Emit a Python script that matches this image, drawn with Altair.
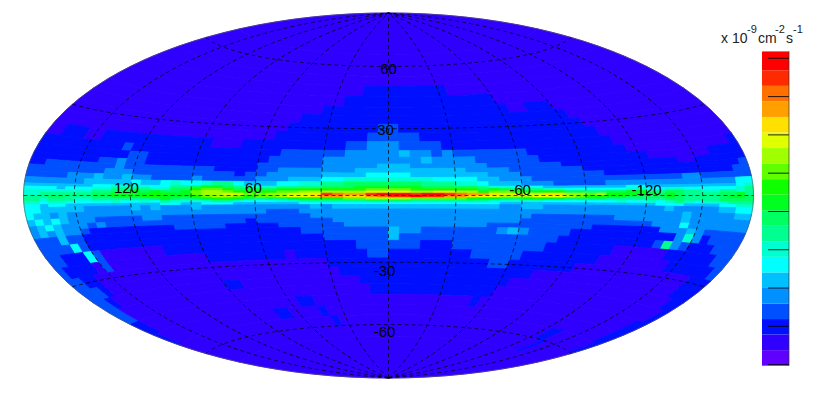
import math
import altair as alt
import pandas as pd

# Latitude edges of the sky-map rows, north to south (degrees)
LAT_EDGES = [90, 66, 60, 55, 50, 45, 40, 36, 32, 28, 24, 20, 17, 14, 12, 10, 8, 6, 4, 3, 2, 1, 0,
             -1, -2, -3, -4, -6, -8, -10, -12, -14, -17, -20, -24, -28, -32, -36, -40, -45, -50, -55, -60, -66, -90]

# One string per row; one character per 5 degree longitude cell from +180 to -180.
# Each character is the index of the flux band.
ONE = "111111 " * 12
ROWS = [
    ONE, ONE, ONE, ONE,
    "111111 111111 111111 111111 111111 111222 222222 211111 111111 111111 111111 111111",
    "111111 111111 111111 111111 111111 122222 222222 222222 111111 111111 111111 111111",
    "111111 111111 111111 111111 111112 222222 222222 222222 211222 111111 111111 111111",
    "111111 111111 111111 111111 111222 222222 222222 222222 222222 211111 111111 111111",
    "111111 111111 111111 111111 112222 222223 322222 222222 222222 221111 111111 111111",
    "111111 111111 111111 111111 122222 222233 333222 222222 222222 222111 111111 111111",
    "112221 122222 222222 211122 222222 223344 433332 222222 222222 222211 111111 111111",
    "222222 222232 222222 222222 223333 334444 454434 333333 322222 222221 111111 111112",
    "222222 222223 322222 222222 233333 444444 444544 443333 332222 222222 211111 112222",
    "222222 223343 322222 222222 333333 444445 554444 444333 333322 222222 222211 222222",
    "223333 333343 333333 332222 334444 444555 555555 544443 333333 222222 222222 222223",
    "333333 333444 333333 333323 344444 555566 665555 555444 333333 332222 222222 222233",
    "333334 445445 443333 433333 444555 667777 777766 665544 433333 333333 333344 333333",
    "444444 455555 655676 678865 556677 889999 999888 776555 444333 334444 444444 444466",
    "555555 556677 776688 9aa987 778888 999aaa aaa999 998776 665555 555566 555555 555567",
    "666656 667788 887799 bccb99 99aabb bbbbcc ccbbbb bb9a98 887766 666677 667766 666678",
    "777777 778899 a9a99a cddcbb bbccdd ddddee eeddee ddbccb aabb99 8899aa 889988 778878",
    "778888 8899aa aabbaa cddeec cddeef ihggij jjijji hggfef eeffdd cdbbaa a9a988 8899a8",
    "888998 8899aa abbaaa bcddcb ccdeef ggffgh iijiig gfeedd deeedc bbaa99 99a988 889aa9",
    "887888 778888 889a98 9abba9 899abb bbccdd ddcccc cbaa99 abaa99 998888 889988 889999",
    "776776 666676 676877 778876 667788 888899 998888 888777 776666 666766 767876 777888",
    "665665 555555 555665 566655 555566 666666 666666 666655 555555 555555 566655 556677",
    "665555 544444 545444 544444 444445 455555 555555 555544 554444 444444 445444 445566",
    "655454 444444 444444 444444 433344 444444 444444 444444 444444 444444 444454 444455",
    "565654 443333 344333 333333 333334 444444 444444 444444 433333 333444 444454 444444",
    "456544 434333 333333 333332 333333 344444 444444 444444 333333 333333 344464 444444",
    "454544 322222 222233 333222 223333 334444 444444 444333 333333 322222 224445 433333",
    "333533 222222 222222 222222 222233 333333 544333 333345 433332 222222 222247 423333",
    "333363 222222 222222 222222 222222 333333 533333 333333 333322 222222 223843 222333",
    "332226 311111 112222 222222 222222 222333 333222 333333 333222 222211 111122 222233",
    "322221 311111 111111 222222 221222 222233 222222 223333 322222 222111 111112 222223",
    "332211 111111 111111 111111 111111 222222 222222 222233 222222 211111 111111 111222",
    "333211 111111 111111 111111 111111 122222 222222 222222 222111 111111 111111 111222",
    "332111 111111 111111 221111 111111 111222 222222 222222 211111 111111 111111 111122",
    "331111 111111 111111 111111 111111 111122 222222 222222 111111 111111 111111 111112",
    "221111 111111 111111 111111 122111 111111 111111 111121 111111 111111 111111 111122",
    "211111 111111 111111 111221 111211 111111 111111 111111 111111 111111 111111 111122",
    "111111 111111 111111 111111 111121 111111 111111 111111 111111 111111 122111 111112",
    "111111 111111 111111 111111 111111 111111 111111 111111 111111 111111 111211 111111",
    ONE,
]

# Colour-bar bands, bottom to top
BAND_COLORS = ["#6000ff", "#3000ff", "#0010ff", "#0050ff", "#0090ff", "#00c0ff", "#00ffff",
               "#00ffd0", "#00ff90", "#00ff60", "#00ff20", "#10ff00", "#60ff00", "#a0ff00",
               "#e0ff00", "#ffe000", "#ffa000", "#ff7000", "#ff2a00", "#ff0000"]
BAND_EDGES = [4.86, 6.89, 8.92, 10.95, 12.98, 15.01, 17.04, 19.07, 21.1, 23.13, 25.16,
              27.19, 29.22, 31.25, 33.28, 35.31, 37.34, 39.37, 41.4, 43.43, 45.9]
BAR_TICKS = [5, 10, 15, 20, 25, 30, 35, 40, 45]

GRID_LONS = [-150, -120, -90, -60, -30, 0, 30, 60, 90, 120, 150]
GRID_LATS = [-60, -30, 0, 30, 60]

# text, longitude, latitude, dx, dy
MAP_LABELS = [("60", 0, 60, 0, 2.5), ("30", 0, 30, -3, 1.5), ("-30", 0, -30, -4, 9), ("-60", 0, -60, -4, 7.5),
              ("120", 120, 0, -4, -7.5), ("60", 60, 0, -1.5, -7.5), ("-60", -60, 0, -2, -6), ("-120", -120, 0, 0, -6)]

FONT = "Liberation Sans"


def hammer(lon, lat):
    la, ph = math.radians(lon) / 2, math.radians(lat)
    z = math.sqrt(1 + math.cos(ph) * math.cos(la))
    return [round(-2 * math.sqrt(2) * math.cos(ph) * math.sin(la) / z, 5),
            round(math.sqrt(2) * math.sin(ph) / z, 5)]


def steps(a, b, n):
    return [a + (b - a) * i / n for i in range(n + 1)]


def cell(lon_a, lon_b, hi, lo):
    nx = max(1, round(abs(lon_b - lon_a) / 5))
    ny = max(1, round(abs(hi - lo) / 3))
    ring = [hammer(x, hi) for x in steps(lon_a, lon_b, nx)]
    ring += [hammer(lon_b, y) for y in steps(hi, lo, ny)][1:]
    ring += [hammer(x, lo) for x in steps(lon_b, lon_a, nx)][1:]
    ring += [hammer(lon_a, y) for y in steps(lo, hi, ny)][1:]
    return ring


LEVEL_CODE = "0123456789abcdefghij"
features = []
for r, row in enumerate(ROWS):
    chars = row.replace(" ", "")
    assert len(chars) == 72, (r, len(chars))
    i = 0
    while i < 72:
        j = i
        while j + 1 < 72 and chars[j + 1] == chars[i]:
            j += 1
        k = LEVEL_CODE.index(chars[i])
        value = (BAND_EDGES[k] + BAND_EDGES[k + 1]) / 2
        features.append({"type": "Feature",
                         "geometry": {"type": "Polygon",
                                      "coordinates": [cell(180 - 5 * i, 180 - 5 * (j + 1), LAT_EDGES[r], LAT_EDGES[r + 1])]},
                         "properties": {"value": value}})
        i = j + 1

lines = []
for lon in GRID_LONS:
    lines.append({"type": "Feature", "properties": {},
                  "geometry": {"type": "LineString", "coordinates": [hammer(lon, y) for y in steps(-90, 90, 60)]}})
for lat in GRID_LATS:
    lines.append({"type": "Feature", "properties": {},
                  "geometry": {"type": "LineString", "coordinates": [hammer(x, lat) for x in steps(180, -180, 72)]}})
limb = [{"type": "Feature", "properties": {},
         "geometry": {"type": "LineString", "coordinates": [hammer(s * 180, y) for y in steps(-90, 90, 90)]}}
        for s in (1, -1)]

color_scale = alt.Scale(type="threshold", domain=BAND_EDGES[1:-1], range=BAND_COLORS)
PROJ = {"type": "identity", "reflectY": True}

cells = alt.Chart(alt.InlineData(values=features)).mark_geoshape(strokeWidth=0.9).encode(
    color=alt.Color("properties.value:Q", scale=color_scale, legend=None),
    stroke=alt.Stroke("properties.value:Q", scale=color_scale, legend=None),
).project(**PROJ)

limb_layer = alt.Chart(alt.InlineData(values=limb)).mark_geoshape(
    filled=False, stroke="#555555", strokeWidth=0.6).project(**PROJ)
grid_layer = alt.Chart(alt.InlineData(values=lines)).mark_geoshape(
    filled=False, stroke="black", strokeWidth=0.7, strokeDash=[4, 3]).project(**PROJ)

layers = [cells, limb_layer, grid_layer]
for text, lon, lat, dx, dy in MAP_LABELS:
    px, py = hammer(lon, lat)
    d = pd.DataFrame({"t": [text], "px": [px], "py": [py]})
    layers.append(alt.Chart(d).mark_text(font=FONT, fontSize=15, color="#000000", dx=dx, dy=dy).encode(
        longitude="px:Q", latitude="py:Q", text="t:N").project(**PROJ))

sky = alt.layer(*layers).properties(width=731, height=365)

bar_y = alt.Scale(domain=[5, 45], range=[351.6, 45.3])
bands = pd.DataFrame({"lo": BAND_EDGES[:-1], "hi": BAND_EDGES[1:],
                      "mid": [(a + b) / 2 for a, b in zip(BAND_EDGES[:-1], BAND_EDGES[1:])]})
rects = alt.Chart(bands).mark_rect().encode(
    x=alt.value(0), x2=alt.value(27),
    y=alt.Y("lo:Q", scale=bar_y, axis=alt.Axis(orient="right", values=BAR_TICKS, title=None, ticks=False,
                                               domain=False, grid=False, labelFont=FONT, labelFontSize=14,
                                               labelColor="#111111", labelPadding=3, labelOffset=2,
                                               labelFontWeight="bold")),
    y2="hi:Q",
    color=alt.Color("mid:Q", scale=color_scale, legend=None),
)
ticks = alt.Chart(pd.DataFrame({"v": BAR_TICKS})).mark_rule(color="black", strokeWidth=1, opacity=0.85).encode(
    x=alt.value(6), x2=alt.value(27), y=alt.Y("v:Q", scale=bar_y, axis=None))
edge = alt.Chart(pd.DataFrame({"a": [BAND_EDGES[0]], "b": [BAND_EDGES[-1]]})).mark_rule(
    color="#333333", strokeWidth=1, opacity=0.7).encode(
    x=alt.value(27), y=alt.Y("a:Q", scale=bar_y, axis=None), y2="b:Q")

title_parts = [("x 10", -41, 30, 14), ("-9", -15, 20, 11), ("cm", -4, 30, 14),
               ("-2", 13, 20, 11), ("s", 24, 30, 14), ("-1", 31, 20, 11)]
title_layers = []
for text, px, py, size in title_parts:
    title_layers.append(alt.Chart(pd.DataFrame({"t": [text]})).mark_text(
        font=FONT, fontSize=size, color="#222222", align="left", baseline="alphabetic").encode(
        x=alt.value(px), y=alt.value(py), text="t:N"))

bar = alt.layer(rects, ticks, edge, *title_layers).properties(width=27, height=365)

chart = alt.hconcat(sky, bar, spacing=8, bounds="flush").resolve_scale(color="independent").properties(
    padding={"left": 13, "top": 3, "right": 5, "bottom": 5}, background="white"
).configure_view(strokeWidth=0)

chart.save("out.html", embed_options={"renderer": "svg", "actions": False})
